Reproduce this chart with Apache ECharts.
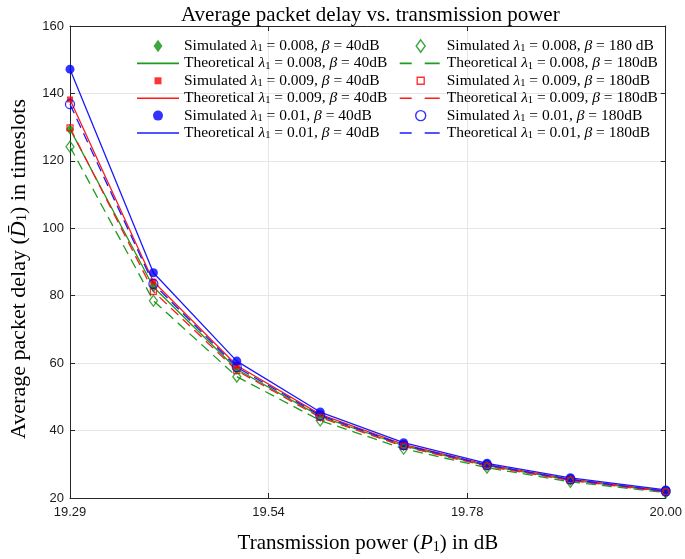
<!DOCTYPE html>
<html><head><meta charset="utf-8">
<script src="https://cdn.jsdelivr.net/npm/echarts@6/dist/echarts.min.js"></script>
<style>html,body{margin:0;padding:0;background:#fff}#c{width:685px;height:559px}</style>
</head><body><div id="c"></div><script>
// ---- data ----
const xPower = [85, 87.1, 89.2, 91.3, 93.4, 95.5, 97.6, 100];
const xTickValues = [85, 90, 95, 100];
const xTickLabels = ['19.29', '19.54', '19.78', '20.00'];
const yMin = 20, yMax = 160, yStep = 20;

const sim008_40  = [129.4, 82.6, 58.2, 44.2, 35.5, 29.6, 25.3, 21.9];
const theo008_40 = [129.4, 82.6, 58.2, 44.2, 35.5, 29.6, 25.3, 21.9];
const sim009_40  = [138.2, 84.2, 59.3, 44.8, 35.9, 29.9, 25.6, 22.1];
const theo009_40 = [138.2, 84.2, 59.3, 44.8, 35.9, 29.9, 25.6, 22.1];
const sim010_40  = [147.2, 86.8, 60.6, 45.5, 36.4, 30.3, 26.0, 22.4];
const theo010_40 = [147.2, 86.8, 60.6, 45.5, 36.4, 30.3, 26.0, 22.4];
const sim008_180  = [124.2, 78.5, 56.0, 43.0, 34.6, 29.0, 24.8, 21.6];
const theo008_180 = [124.2, 78.5, 56.0, 43.0, 34.6, 29.0, 24.8, 21.6];
const sim009_180  = [129.8, 81.3, 57.8, 43.9, 35.3, 29.4, 25.2, 21.8];
const theo009_180 = [129.8, 81.3, 57.8, 43.9, 35.3, 29.4, 25.2, 21.8];
const sim010_180  = [136.8, 83.5, 58.8, 44.5, 35.7, 29.8, 25.5, 22.0];
const theo010_180 = [136.8, 83.5, 58.8, 44.5, 35.7, 29.8, 25.5, 22.0];

const names40 = [
  'Simulated λ1 = 0.008, β = 40dB', 'Theoretical λ1 = 0.008, β = 40dB',
  'Simulated λ1 = 0.009, β = 40dB', 'Theoretical λ1 = 0.009, β = 40dB',
  'Simulated λ1 = 0.01, β = 40dB',  'Theoretical λ1 = 0.01, β = 40dB'
];
const names180 = [
  'Simulated λ1 = 0.008, β = 180 dB', 'Theoretical λ1 = 0.008, β = 180dB',
  'Simulated λ1 = 0.009, β = 180dB',  'Theoretical λ1 = 0.009, β = 180dB',
  'Simulated λ1 = 0.01, β = 180dB',   'Theoretical λ1 = 0.01, β = 180dB'
];

// ---- styles ----
const GREEN = '#1c9c1c', RED = '#ff1a1a', BLUE = '#1a1aff';
const GREEN_M = '#0f8f0f', RED_M = '#ff0000', BLUE_M = '#0000ff';
const SERIF = '"Liberation Serif", "Times New Roman", serif';
const SANS = '"Liberation Sans", Arial, Helvetica, sans-serif';
const DASH = [10, 6];

const pair = arr => xPower.map((x, i) => [x, arr[i]]);

function scatter(name, arr, symbol, size, color, open) {
  return {
    name, type: 'scatter', data: pair(arr), symbol, symbolSize: size,
    itemStyle: open ? { color: 'rgba(255,255,255,0)', borderColor: color, borderWidth: 1.3 }
                    : { color: color, borderWidth: 0 },
    emphasis: { disabled: true }, z: 3
  };
}
function line(name, arr, color, dashed) {
  return {
    name, type: 'line', data: pair(arr), symbol: 'none',
    lineStyle: { color, width: 1.3, type: dashed ? DASH : 'solid' },
    itemStyle: { color }, emphasis: { disabled: true }, z: 2
  };
}

const series = [
  scatter(names40[0], sim008_40, 'diamond', [8, 11], GREEN_M, false),
  line(names40[1], theo008_40, GREEN, false),
  scatter(names40[2], sim009_40, 'rect', [6, 6], RED_M, false),
  line(names40[3], theo009_40, RED, false),
  scatter(names40[4], sim010_40, 'circle', 9, BLUE_M, false),
  line(names40[5], theo010_40, BLUE, false),
  scatter(names180[0], sim008_180, 'diamond', [8, 11], GREEN_M, true),
  line(names180[1], theo008_180, GREEN, true),
  scatter(names180[2], sim009_180, 'rect', [6, 6], RED_M, true),
  line(names180[3], theo009_180, RED, true),
  scatter(names180[4], sim010_180, 'circle', 9, BLUE_M, true),
  line(names180[5], theo010_180, BLUE, true)
];

// ---- legend icons ----
const BOX = 'M0,0M42,14';
const ICON = {
  diamond: 'path://' + BOX + 'M21,0.8L25.5,7L21,13.2L16.5,7Z',
  rect: 'path://' + BOX + 'M17.5,3.5H24.5V10.5H17.5Z',
  circle: 'path://' + BOX + 'M26,7A5,5,0,1,1,16,7A5,5,0,1,1,26,7Z',
  solid: 'path://' + BOX + 'M0,6.2H42V7.8H0Z',
  dashed: 'path://' + BOX + 'M0,6.2H12V7.8H0ZM25,6.2H40V7.8H25Z'
};
function legendItems(names, open) {
  const shapes = ['diamond', null, 'rect', null, 'circle', null];
  const cols = [GREEN_M, GREEN, RED_M, RED, BLUE_M, BLUE];
  return names.map((n, i) => {
    if (shapes[i]) {
      return {
        name: n, icon: ICON[shapes[i]],
        itemStyle: open ? { color: 'rgba(255,255,255,0)', borderColor: cols[i], borderWidth: 1.4 }
                        : { color: cols[i], borderWidth: 0 }
      };
    }
    return { name: n, icon: ICON[open ? 'dashed' : 'solid'], itemStyle: { color: cols[i], borderWidth: 0 } };
  });
}
function richName(name) {
  const m = name.match(/^(\S+) λ1 = ([\d.]+), β = (.+)$/);
  return '{n|' + m[1] + ' }{i|λ}{s|1}{n| = ' + m[2] + ', }{i|β}{n| = ' + m[3] + '}';
}
const FS = 15.5;
const legendRich = {
  n: { fontFamily: SERIF, fontSize: FS, color: '#000', lineHeight: 16 },
  i: { fontFamily: SERIF, fontSize: FS, fontStyle: 'italic', color: '#000', lineHeight: 16 },
  s: { fontFamily: SERIF, fontSize: 10.5, color: '#000', lineHeight: 9, verticalAlign: 'bottom' }
};
function legendCfg(names, open, left) {
  return {
    data: legendItems(names, open), orient: 'vertical', left, top: 38, padding: 0,
    itemWidth: 42, itemHeight: 14, itemGap: 1.4, selectedMode: false,
    formatter: richName, textStyle: { rich: legendRich }
  };
}

function nameRich(fs) {
  return {
    n: { fontFamily: SERIF, fontSize: fs, color: '#000' },
    i: { fontFamily: SERIF, fontSize: fs, fontStyle: 'italic', color: '#000' },
    s: { fontFamily: SERIF, fontSize: fs * 0.67, color: '#000', verticalAlign: 'bottom', lineHeight: fs * 0.62 }
  };
}
const AXC = '#262626';

const option = {
  animation: false,
  backgroundColor: '#fff',
  title: {
    text: 'Average packet delay vs. transmission power', left: 176, top: 0,
    textStyle: { fontFamily: SERIF, fontSize: 21, fontWeight: 'normal', color: '#000' }
  },
  grid: { left: 65, right: 15, top: 26, bottom: 58 },
  legend: [legendCfg(names40, false, 137), legendCfg(names180, true, 399)],
  xAxis: [{
    type: 'value', min: xTickValues[0], max: xTickValues[xTickValues.length - 1], interval: 5,
    name: '{n|Transmission power (}{i|P}{s|1}{n|) in dB}', nameLocation: 'middle', nameGap: 35,
    nameTextStyle: { rich: nameRich(21) },
    axisLine: { lineStyle: { color: AXC, width: 1 } },
    axisTick: { inside: true, length: 5, lineStyle: { color: AXC } },
    axisLabel: { fontFamily: SANS, fontSize: 13, color: '#1a1a1a', margin: 8,
      formatter: v => xTickLabels[xTickValues.indexOf(v)] },
    splitLine: { show: true, lineStyle: { color: '#e6e6e6', width: 1 } }
  }, {
    type: 'value', position: 'top', min: xTickValues[0], max: xTickValues[xTickValues.length - 1], interval: 5,
    axisLine: { show: true, lineStyle: { color: AXC, width: 1 } },
    axisTick: { inside: true, length: 5, lineStyle: { color: AXC } },
    axisLabel: { show: false }, splitLine: { show: false }
  }],
  yAxis: [{
    type: 'value', min: yMin, max: yMax, interval: yStep,
    name: '{n|Average packet delay (}{i|D̄}{s|1}{n|) in timeslots}', nameLocation: 'middle', nameGap: 40,
    nameTextStyle: { rich: nameRich(22), padding: [0, 14, 0, 0] },
    axisLine: { show: true, lineStyle: { color: AXC, width: 1 } },
    axisTick: { show: true, inside: true, length: 5, lineStyle: { color: AXC } },
    axisLabel: { fontFamily: SANS, fontSize: 13, color: '#1a1a1a', margin: 6 },
    splitLine: { show: true, lineStyle: { color: '#e6e6e6', width: 1 } }
  }, {
    type: 'value', position: 'right', min: yMin, max: yMax, interval: yStep,
    axisLine: { show: true, lineStyle: { color: AXC, width: 1 } },
    axisTick: { show: true, inside: true, length: 5, lineStyle: { color: AXC } },
    axisLabel: { show: false }, splitLine: { show: false }
  }],
  series
};
const chart = echarts.init(document.getElementById('c'), null, { renderer: 'canvas' });
chart.setOption(option);
</script></body></html>
